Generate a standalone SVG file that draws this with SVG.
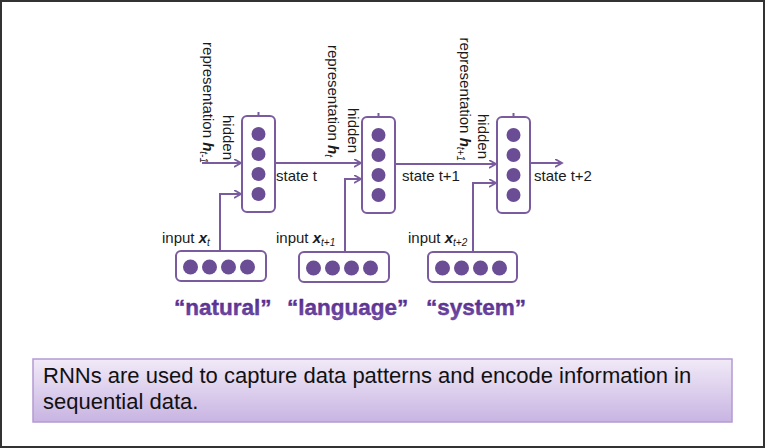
<svg xmlns="http://www.w3.org/2000/svg" width="765" height="448" viewBox="0 0 765 448">
<defs>
<style>
.frame{fill:#ffffff;stroke:#333333;stroke-width:2}
.box{fill:#ffffff;stroke:#7a5b9e;stroke-width:2}
.dot{fill:#6a4d94}
.wire{fill:none;stroke:#7a5b9e;stroke-width:2}
.lbl{font-family:"Liberation Sans",Arial,sans-serif;font-size:15px;fill:#1a1a1a}
.hv{font-weight:bold;font-style:italic}
.sub{font-style:italic;font-size:10px}
.word{font-family:"Liberation Sans",Arial,sans-serif;font-size:22.5px;font-weight:bold;fill:url(#wordGrad);stroke:#5a2d90;stroke-width:0.4}
.cap{font-family:"Liberation Sans",Arial,sans-serif;font-size:22px;fill:#111111}
</style>
<linearGradient id="wordGrad" x1="0" y1="0" x2="0" y2="1">
<stop offset="0" stop-color="#4f2189"/>
<stop offset="1" stop-color="#7453a8"/>
</linearGradient>
<linearGradient id="capGrad" x1="0" y1="0" x2="0" y2="1">
<stop offset="0" stop-color="#f1eaf8"/>
<stop offset="1" stop-color="#c8b4e2"/>
</linearGradient>
<marker id="arr" markerUnits="userSpaceOnUse" markerWidth="10" markerHeight="10" refX="7" refY="4" orient="auto">
<path d="M0,0 L7,4 L0,8" fill="none" stroke="#7a5b9e" stroke-width="1.8"/>
</marker>
</defs>

<rect class="frame" x="1" y="1" width="763" height="446"/>

<g id="connectors">
<line class="wire" x1="202" y1="163" x2="241" y2="163" marker-end="url(#arr)"/>
<line class="wire" x1="275" y1="163" x2="361" y2="163" marker-end="url(#arr)"/>
<line class="wire" x1="395" y1="164" x2="496" y2="164" marker-end="url(#arr)"/>
<line class="wire" x1="530" y1="163" x2="562" y2="163" marker-end="url(#arr)"/>
<polyline class="wire" points="220,251 220,194 241,194" marker-end="url(#arr)"/>
<polyline class="wire" points="345,252 345,179 361,179" marker-end="url(#arr)"/>
<polyline class="wire" points="473,252 473,183 496,183" marker-end="url(#arr)"/>
<line class="wire" x1="258.5" y1="112" x2="258.5" y2="116"/>
<line class="wire" x1="378.5" y1="113" x2="378.5" y2="117"/>
<line class="wire" x1="513.5" y1="113" x2="513.5" y2="117"/>
</g>

<g id="hidden1">
<rect class="box" x="242" y="116" width="33" height="96" rx="5"/>
<circle class="dot" cx="258.5" cy="134" r="7"/>
<circle class="dot" cx="258.5" cy="154" r="7"/>
<circle class="dot" cx="258.5" cy="174" r="7"/>
<circle class="dot" cx="258.5" cy="194" r="7"/>
<text class="lbl" transform="translate(203,163) rotate(90)" text-anchor="end">representation <tspan class="hv">h</tspan><tspan class="sub" dy="3">t-1</tspan></text>
<text class="lbl" transform="translate(222.5,160) rotate(90)" text-anchor="end">hidden</text>
</g>

<g id="hidden2">
<rect class="box" x="362" y="117" width="33" height="96" rx="5"/>
<circle class="dot" cx="378.5" cy="135" r="7"/>
<circle class="dot" cx="378.5" cy="155" r="7"/>
<circle class="dot" cx="378.5" cy="175" r="7"/>
<circle class="dot" cx="378.5" cy="195" r="7"/>
<text class="lbl" transform="translate(328,157) rotate(90)" text-anchor="end">representation <tspan class="hv">h</tspan><tspan class="sub" dy="3">t</tspan></text>
<text class="lbl" transform="translate(348,153) rotate(90)" text-anchor="end">hidden</text>
</g>

<g id="hidden3">
<rect class="box" x="497" y="117" width="33" height="96" rx="5"/>
<circle class="dot" cx="513.5" cy="135" r="7"/>
<circle class="dot" cx="513.5" cy="155" r="7"/>
<circle class="dot" cx="513.5" cy="175" r="7"/>
<circle class="dot" cx="513.5" cy="195" r="7"/>
<text class="lbl" transform="translate(459.5,161) rotate(90)" text-anchor="end">representation <tspan class="hv">h</tspan><tspan class="sub" dy="3">t+1</tspan></text>
<text class="lbl" transform="translate(477.5,159) rotate(90)" text-anchor="end">hidden</text>
</g>

<g id="states">
<text class="lbl" x="276" y="181">state t</text>
<text class="lbl" x="402" y="181">state t+1</text>
<text class="lbl" x="534" y="181">state t+2</text>
</g>

<g id="input1">
<rect class="box" x="176" y="251" width="90" height="30" rx="5"/>
<circle class="dot" cx="190.5" cy="267" r="7.5"/>
<circle class="dot" cx="209.5" cy="267" r="7.5"/>
<circle class="dot" cx="228.5" cy="267" r="7.5"/>
<circle class="dot" cx="247.5" cy="267" r="7.5"/>
<text class="lbl" x="162" y="243">input <tspan class="hv">x</tspan><tspan class="sub" dy="3">t</tspan></text>
<text class="word" x="174" y="315">“natural”</text>
</g>

<g id="input2">
<rect class="box" x="299" y="252" width="90" height="30" rx="5"/>
<circle class="dot" cx="313.5" cy="268" r="7.5"/>
<circle class="dot" cx="332.5" cy="268" r="7.5"/>
<circle class="dot" cx="351.5" cy="268" r="7.5"/>
<circle class="dot" cx="370.5" cy="268" r="7.5"/>
<text class="lbl" x="276" y="243">input <tspan class="hv">x</tspan><tspan class="sub" dy="3">t+1</tspan></text>
<text class="word" x="287" y="315">“language”</text>
</g>

<g id="input3">
<rect class="box" x="428" y="252" width="89" height="30" rx="5"/>
<circle class="dot" cx="442.5" cy="268" r="7.5"/>
<circle class="dot" cx="461.5" cy="268" r="7.5"/>
<circle class="dot" cx="480.5" cy="268" r="7.5"/>
<circle class="dot" cx="499.5" cy="268" r="7.5"/>
<text class="lbl" x="408" y="243">input <tspan class="hv">x</tspan><tspan class="sub" dy="3">t+2</tspan></text>
<text class="word" x="426" y="315">“system”</text>
</g>

<g id="caption">
<rect x="33" y="359" width="699" height="63" fill="url(#capGrad)" stroke="#b39bd4" stroke-width="1.5"/>
<text class="cap" x="43" y="383">RNNs are used to capture data patterns and encode information in</text>
<text class="cap" x="43" y="409">sequential data.</text>
</g>
</svg>
